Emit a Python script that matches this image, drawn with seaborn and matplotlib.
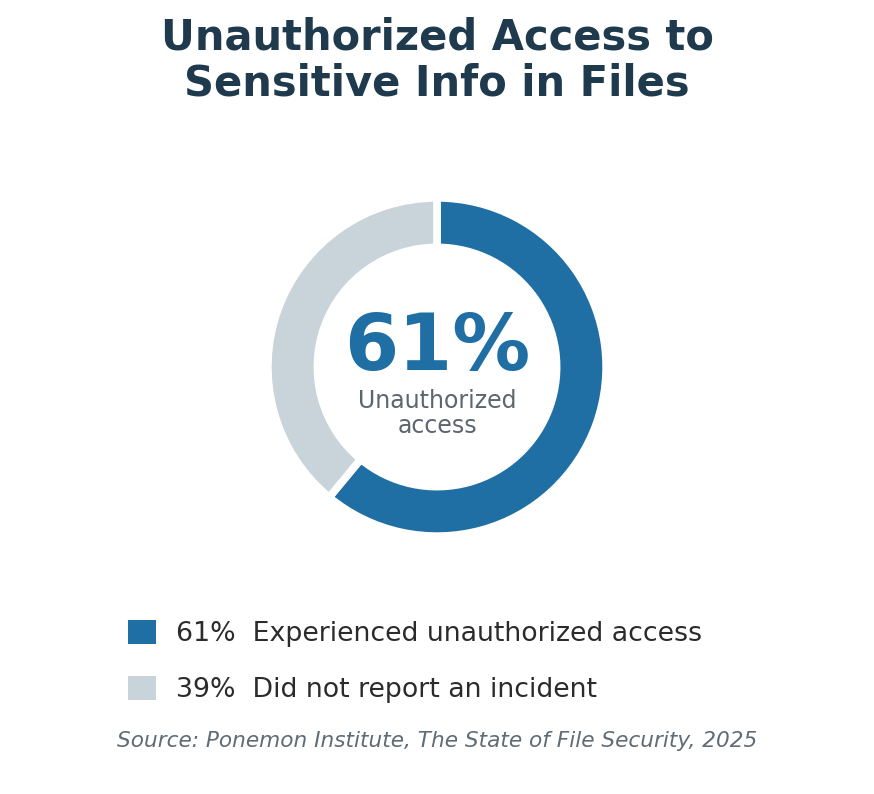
"""
Donut chart: unauthorized access to sensitive info in files.
"""

import matplotlib.pyplot as plt
import seaborn as sns

# Data
labels = ["Experienced unauthorized access", "Did not report an incident"]
values = [61, 39]
colors = ["#1f6fa5", "#c9d3da"]

title = "Unauthorized Access to\nSensitive Info in Files"
center_label = ["Unauthorized", "access"]
source = "Source: Ponemon Institute, The State of File Security, 2025"

LIM = 1.1        # axis half-range, 1 data unit == 165 px
PX = 165


def init_figure():
    """
    Initialize the figure.
    """
    sns.set_theme(style="white")
    plt.rcParams["font.family"] = ["DejaVu Sans"]
    fig = plt.figure(figsize=(8.74, 7.94), dpi=100)
    fig.patch.set_facecolor("white")
    side = 2 * LIM * PX
    cx, cy = 437, 367
    ax = fig.add_axes([(cx - side / 2) / 874, (794 - cy - side / 2) / 794,
                       side / 874, side / 794])
    return fig, ax


fig, ax = init_figure()

wedges, _ = ax.pie(values, colors=colors, startangle=90, counterclock=False,
                   radius=1.025,
                   wedgeprops=dict(width=0.30, edgecolor="white", linewidth=5.5))
ax.set_xlim(-LIM, LIM)
ax.set_ylim(-LIM, LIM)
ax.set_aspect("equal")
ax.axis("off")

# Center text
ax.text(0, -0.02, f"{values[0]}%", ha="center", va="baseline",
        fontsize=56, fontweight="bold", color=colors[0])
ax.text(0, -0.25, center_label[0], ha="center", va="baseline",
        fontsize=17, color="#5b6670")
ax.text(0, -0.40, center_label[1], ha="center", va="baseline",
        fontsize=17, color="#5b6670")

# Title
fig.text(0.5, 1 - 17 / 794, title, ha="center", va="top",
         fontsize=30, fontweight="bold", color="#1f3a4d", linespacing=1.1)

# Legend
leg_labels = [f"{v}%  {l}" for v, l in zip(values, labels)]
leg = fig.legend(wedges, leg_labels, loc="upper left",
                 bbox_to_anchor=(128 / 874, 1 - 620 / 794),
                 frameon=False, fontsize=19.3, borderpad=0, borderaxespad=0,
                 handlelength=1.04, handleheight=1.0, handletextpad=0.75,
                 labelspacing=1.08)
for t in leg.get_texts():
    t.set_color("#2b2b2b")
for h in leg.legend_handles:
    h.set_edgecolor("none")
    h.set_linewidth(0)

# Source
fig.text(0.5, 1 - 741 / 794, source, ha="center", va="center",
         fontsize=15.6, style="italic", color="#5f6b75")

fig.savefig("out.png", dpi=100, facecolor="white")
